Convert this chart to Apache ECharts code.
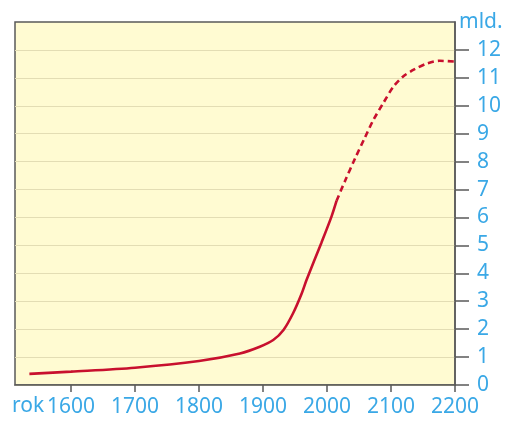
<!DOCTYPE html>
<html><head><meta charset="utf-8">
<script src="https://cdn.jsdelivr.net/npm/echarts@6/dist/echarts.min.js"></script>
<style>html,body{margin:0;padding:0;background:#fff}#c{width:509px;height:425px}</style>
</head><body><div id="c"></div>
<script>
const xTicks = [1600, 1700, 1800, 1900, 2000, 2100, 2200];
const yTicks = [0,1,2,3,4,5,6,7,8,9,10,11,12];
const historyYears = [1535, 1600, 1700, 1800, 1864, 1895, 1916, 1932, 1947, 1960, 1968, 1991, 2007, 2015];
const historyValues = [0.40, 0.48, 0.62, 0.86, 1.13, 1.37, 1.61, 1.97, 2.57, 3.25, 3.76, 5.08, 6.03, 6.60];
const forecastYears = [2015, 2028, 2044, 2059, 2072, 2088, 2104, 2119, 2137, 2156, 2176, 2200];
const forecastValues = [6.60, 7.30, 8.12, 8.85, 9.47, 10.10, 10.69, 11.05, 11.31, 11.51, 11.61, 11.58];

const blue = '#3AA8E6';
const red = '#C8102E';
const chart = echarts.init(document.getElementById('c'));
chart.setOption({
  animation: false,
  grid: {left: 15, right: 54, top: 22, bottom: 40, show: true, backgroundColor: '#FFFBD2', borderColor: '#5a5a5a', borderWidth: 1.5},
  xAxis: {
    type: 'value', min: 1512.5, max: 2200,
    axisLine: {show: true, lineStyle: {color: '#5a5a5a', width: 1.5}},
    axisTick: {show: true, length: 7, customValues: xTicks, lineStyle: {color: '#5a5a5a', width: 1.5}},
    axisLabel: {customValues: xTicks, color: blue, fontSize: 21, fontFamily: 'Noto Sans', margin: 12, formatter: v => String(v)},
    splitLine: {show: false}
  },
  yAxis: {
    type: 'value', position: 'right', min: 0, max: 13, interval: 1,
    name: 'mld.', nameLocation: 'end', nameGap: 0,
    nameTextStyle: {color: blue, fontSize: 21, fontFamily: 'Noto Sans', align: 'left', verticalAlign: 'middle', padding: [0, 0, 0, 4]},
    axisLine: {show: true, lineStyle: {color: '#5a5a5a', width: 1.5}},
    axisTick: {show: true, length: 14, inside: false, customValues: yTicks, lineStyle: {color: '#5a5a5a', width: 1.5}},
    axisLabel: {customValues: yTicks, color: blue, fontSize: 21, fontFamily: 'Noto Sans', margin: 22},
    splitLine: {show: true, lineStyle: {color: '#E3DDB4', width: 1}}
  },
  graphic: [{type: 'text', left: 12, top: 396, style: {text: 'rok', fill: blue, font: '21px "Noto Sans"'}}],
  series: [
    {type: 'line', data: historyYears.map((y, i) => [y, historyValues[i]]), smooth: 0.3, symbol: 'none', lineStyle: {color: red, width: 2.6}},
    {type: 'line', data: forecastYears.map((y, i) => [y, forecastValues[i]]), smooth: 0.3, symbol: 'none', lineStyle: {color: red, width: 2.6, type: [6, 4]}}
  ]
});
</script></body></html>
